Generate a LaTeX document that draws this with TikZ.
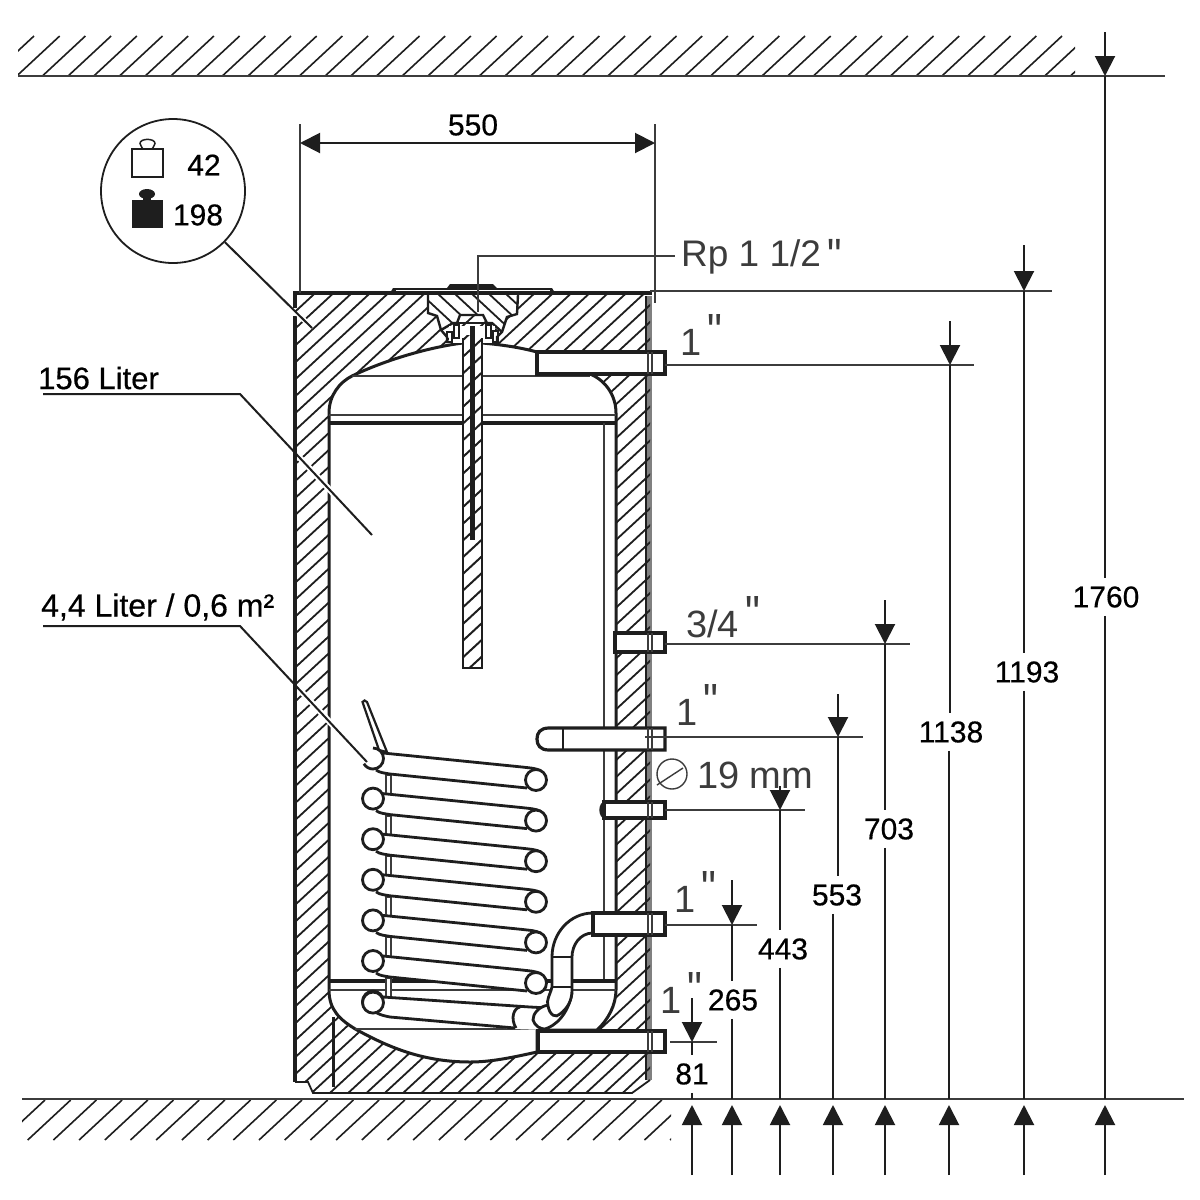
\documentclass[tikz,border=0pt]{standalone}
\usepackage{fontspec}
\setmainfont{Liberation Sans}
\newfontfamily\quotefont{Liberation Sans}
\newfontfamily\dimfont[FakeBold=0.5]{Liberation Sans}
\usetikzlibrary{arrows.meta}
\definecolor{ink}{HTML}{1E1E1E}
\definecolor{soft}{HTML}{3C3C3C}
\newcommand{\inchmark}{\raisebox{.17em}{\scalebox{1.1}[1.3]{\quotefont"}}}
\newcommand{\rpmark}{\raisebox{-.17em}{\scalebox{1.1}[1.3]{\quotefont"}}}
\tikzset{
    dimtext/.style={inner xsep=1pt,inner ysep=8pt,text=black,font=\dimfont\fontsize{30}{30}\selectfont},
    weighttext/.style={inner sep=1pt,text=black,font=\dimfont\fontsize{30}{30}\selectfont},
    fittext/.style={inner sep=0pt,anchor=base west,text=soft,font=\fontsize{38}{38}\selectfont},
    parttext/.style={inner sep=0pt,anchor=west,text=black,font=\dimfont\fontsize{31}{31}\selectfont},
    dimline/.style={draw=ink,line width=2pt},
    extline/.style={draw=soft,line width=1.4pt},
    hatchline/.style={draw=ink,line width=1.8pt},
    wall/.style={draw=ink,line width=3pt},
    pipe/.style={draw=ink,line width=3.2pt,fill=white},
    coilline/.style={draw=ink,line width=2.8pt},
    tipline/.style={-{Triangle[length=20pt,width=20pt]}}
}
\begin{document}
\begin{tikzpicture}[x=1pt,y=-1pt]
    \path[use as bounding box,fill=white] (0,0) rectangle (1200,1200);

    \begin{scope}
        \clip (18,35) rectangle (1075,76);
        \foreach \k in {-9,16.7,...,1090} \draw[hatchline,line width=1.6pt] (\k,76) -- (\k+43,36);
    \end{scope}
    \begin{scope}
        \clip (22,1099) rectangle (671,1140);
        \foreach \k in {2,27.7,...,700} \draw[hatchline,line width=1.6pt] (\k,1140) -- (\k+43,1100);
    \end{scope}
    \draw[extline,line width=2.2pt] (18,76) -- (1165,76);
    \draw[extline,line width=2.2pt] (22,1099) -- (1184,1099);

    \draw[draw=gray,line width=5pt] (649.5,296) -- (649.5,1080);
    \begin{scope}
        \clip (295,293) -- (650,293) -- (650,1080) -- (632,1093) -- (313,1093) -- (308,1082) -- (295,1082) -- cycle;
        \foreach \k in {-569,-550.7,...,650} \draw[hatchline] (\k,1095) -- (\k+866,293);
    \end{scope}
    \draw[wall,line width=1.8pt] (646,296) -- (646,1080);
    \draw[wall,line width=1.8pt] (650,1080) -- (632,1093) -- (313,1093) -- (308,1082) -- (295,1082);
    \draw[wall,line width=4pt] (295,316) -- (295,1082);
    \draw[wall,line width=4pt] (295,308) -- (295,293);
    \draw[wall,line width=3.6pt] (293,293) -- (652,293);
    \draw[wall] (333,1017) -- (333,1087);

    \path[fill=ink] (390,293) -- (393,288) -- (552,288) -- (555,293) -- cycle;
    \path[fill=ink] (447,288) -- (450,284) -- (493,284) -- (497,288) -- cycle;
    \draw[draw=white,line width=1pt] (396,290.5) -- (550,290.5);

    \draw[wall,fill=white] (329,990) -- (329,413) .. controls (329,395) and (340,382) .. (352,376)
        .. controls (385,360) and (430,347) .. (463,343) -- (482,343)
        .. controls (505,345) and (522,348) .. (537,352) -- (537,374) -- (590,374)
        .. controls (605,380) and (616,395) .. (616,413) -- (616,990)
        .. controls (616,1005) and (608,1020) .. (597,1030) -- (537,1030) -- (537,1052)
        .. controls (510,1058) and (490,1062) .. (470,1062)
        .. controls (420,1062) and (385,1045) .. (357,1030)
        .. controls (340,1020) and (329,1010) .. (329,990) -- cycle;
    \draw[extline,line width=1.8pt] (352,376) -- (590,376);
    \draw[extline,line width=1.8pt] (329,415) -- (616,415);
    \draw[wall,line width=3.8pt] (329,423) -- (616,423);
    \draw[extline,line width=2.4pt] (604,423) -- (604,981);
    \draw[wall,line width=3.8pt] (329,981) -- (616,981);
    \draw[extline,line width=2pt] (329,990) -- (616,990);
    \draw[extline,line width=2pt] (355,1029) -- (540,1029);

    \begin{scope}
        \clip (428,295) -- (428,313) -- (437,316) -- (441,330) -- (453,323) -- (457,323) -- (460,315) -- (483,315)
            -- (487,323) -- (502,332) -- (507,317) -- (517,314) -- (518,295) -- cycle;
        \fill[white] (420,290) rectangle (525,345);
        \foreach \k in {420,437,...,540} \draw[hatchline] (\k,293) -- (\k+56,345);
    \end{scope}
    \draw[wall,line width=2.4pt] (428,295) -- (428,313) -- (437,316) -- (441,330) -- (447,337) -- (447,343);
    \draw[wall,line width=2.4pt] (518,295) -- (517,314) -- (507,317) -- (502,332) -- (497,337) -- (497,343);
    \draw[wall,line width=2.4pt] (441,330) -- (453,323) -- (457,323) -- (460,315) -- (483,315) -- (487,323) -- (492,323) -- (502,332);
    \draw[wall,line width=2.4pt] (457,323) -- (487,323);
    \fill[white] (449,326) rectangle (495,343);
    \draw[wall,line width=2pt] (447,332) rectangle (452,342);
    \draw[wall,line width=2pt] (454,325) rectangle (459,338);
    \draw[wall,line width=2pt] (486,325) rectangle (491,338);
    \draw[wall,line width=2pt] (493,331) rectangle (498,342);

    \begin{scope}
        \clip (463,335) rectangle (482,668);
        \fill[white] (463,335) rectangle (482,668);
        \foreach \k in {340,356.7,...,690} \draw[hatchline,line width=2pt] (463,\k) -- (482,\k-17.6);
    \end{scope}
    \draw[wall,line width=2.8pt] (463,338) -- (463,668) -- (482,668) -- (482,338);
    \draw[draw=ink,line width=5.5pt] (472.5,326) -- (472.5,540);

    \foreach \i in {0,...,5} {
        \pgfmathsetmacro{\yb}{775+40.6*\i}
        \draw[extline,line width=1.8pt,fill=white] (386,\yb) rectangle (391,\yb+20);
    }

    \foreach \i in {0,...,5} {
        \pgfmathsetmacro{\yl}{758+40.6*\i}
        \pgfmathsetmacro{\yr}{\yl+22}
        \fill[white] (383,\yl-6) -- (522,\yr-13) -- (541,\yr-10) -- (527,\yr+7) -- (376,\yl+14) -- cycle;
        \draw[coilline] (383,\yl-5) -- (522,\yr-13) .. controls (530,\yr-12) and (536,\yr-12) .. (541,\yr-9);
        \draw[coilline] (376,\yl+12) .. controls (380,\yl+15) and (385,\yl+15) .. (390,\yl+16) -- (527,\yr+8);
        \draw[coilline,fill=white] (536,\yr) circle[radius=10.5pt];
    }
    \foreach \i in {1,...,6} \draw[coilline,fill=white] (373,758+40.6*\i) circle[radius=10.5pt];
    \draw[coilline,line width=2.2pt,fill=white] (362.5,702) .. controls (363,700) and (366,700) .. (367,702) -- (387,752) -- (379,750) -- cycle;
    \draw[coilline,fill=white] (373,748) arc[start angle=90,end angle=-150,radius=10.5pt];

    \fill[white] (383,997) -- (547,1008) -- (545,1030) -- (513,1029) -- (375,1014) -- cycle;
    \draw[coilline] (383,997) -- (530,1007) -- (548,1008);
    \draw[coilline] (375,1012) .. controls (380,1015) and (385,1016) .. (390,1017) -- (515,1028);
    \draw[coilline,fill=white] (373,1002.6) circle[radius=10.5pt];
    \draw[coilline,fill=white] (520,1007) .. controls (514,1008) and (510,1018) .. (516,1028);
    \draw[coilline,fill=white] (548,1005) .. controls (538,1007) and (533,1014) .. (533,1020)
        .. controls (535,1026) and (540,1029) .. (545,1029) .. controls (555,1026) and (568,1015) .. (572,993);

    \draw[pipe,line width=2.8pt] (593,913) .. controls (570,913) and (552,933) .. (552,957) -- (552,987)
        .. controls (550,995) and (546,1000) .. (548,1006) .. controls (550,1016) and (556,1018) .. (560,1014)
        .. controls (568,1008) and (572,1000) .. (572,990) -- (572,957)
        .. controls (572,945) and (580,933) .. (593,933) -- cycle;
    \draw[coilline] (552,957) -- (572,957);
    \draw[coilline,line width=2.2pt] (552,987) -- (572,987);

    \draw[pipe] (537,352) rectangle (665,374);
    \draw[pipe] (615,633) rectangle (665,652);
    \draw[pipe] (549,728) -- (665,728) -- (665,750) -- (549,750) .. controls (540,750) and (537,745) .. (537,739)
        .. controls (537,733) and (540,728) .. (549,728) -- cycle;
    \draw[coilline,line width=1.8pt] (563,728) -- (563,750);
    \draw[pipe] (604,802) rectangle (665,818);
    \draw[coilline] (606,802) .. controls (599,803) and (599,817) .. (606,818);
    \draw[pipe] (593,913) rectangle (665,935);
    \draw[pipe] (538,1031) rectangle (665,1052);
    \foreach \y/\h in {352/22,633/19,728/22,802/16,913/22,1031/21} {
        \draw[extline,line width=1.2pt] (648,\y) -- (648,\y+\h);
        \draw[extline,line width=1.2pt] (652,\y) -- (652,\y+\h);
    }

    \draw[wall] (537,1030) -- (597,1030);

    \foreach \val/\xa/\ya/\yb/\xl/\yl/\xf/\xe/\xg in {
        1760/1105/32/76/1106/597/1105/1105/1165,
        1193/1024/245/291/1027/672/1024/650/1052,
        1138/950/321/365/951/732/949/665/974,
        703/885/600/644/889/829/885/665/910,
        553/838/694/737/837/895/833/645/863,
        443/780/786/810/783/949/780/665/805,
        265/732/880/925/733/1000/732/665/757,
        81/692/998/1042/692/1074/692/670/717} {
        \node[dimtext] (d\val) at (\xl,\yl) {\val};
        \coordinate (dtop\val) at (\xa,\ya);
        \coordinate (dtip\val) at (\xa,\yb);
        \coordinate (dfoot\val) at (\xf,1099);
        \coordinate (dlow\val) at (\xf,1175);
        \coordinate (dup\val) at (\xf,1105);
        \draw[extline] (\xe,\yb) -- (\xg,\yb);
        \draw[dimline,tipline] (dtop\val) -- (dtip\val);
        \draw[dimline] (dtip\val) -- (dtip\val |- d\val.north);
        \draw[dimline] (dfoot\val |- d\val.south) -- (dfoot\val);
        \draw[dimline,tipline] (dlow\val) -- (dup\val);
    }

    \coordinate (jackl) at (300,143);
    \coordinate (jackr) at (655,143);
    \draw[extline] (300,124) -- (300,293);
    \draw[extline] (655,124) -- (655,303);
    \draw[dimline,{Triangle[length=20pt,width=20pt]}-{Triangle[length=20pt,width=20pt]}] (jackl) -- (jackr);
    \node[dimtext] (width) at (473,125) {550};

    \node[circle,draw=ink,line width=1.8pt,minimum size=144pt,inner sep=0pt] (badge) at (173,191) {};
    \coordinate (badgeend) at (312,328);
    \draw[draw=white,line width=5pt] (298,314) -- (310,326);
    \draw[dimline] (badge) -- (badgeend);
    \draw[draw=ink,line width=1.5pt] (132,149) rectangle (163,177);
    \draw[draw=ink,line width=1.5pt] (143,149) .. controls (143,147) and (140,147) .. (140,143.5)
        .. controls (140,138) and (155,138) .. (155,143.5) .. controls (155,147) and (152,147) .. (152,149);
    \fill[ink] (132,200) rectangle (163,228);
    \fill[ink] (147,194) ellipse[x radius=8pt,y radius=5pt];
    \fill[ink] (143,196) rectangle (151,202);
    \node[weighttext] (empty) at (204,165) {42};
    \node[weighttext] (full) at (198,215) {198};

    \node[parttext] (tanklabel) at (38,378) {156 Liter};
    \coordinate (tanka) at (43,394);
    \coordinate (tankb) at (240,394);
    \coordinate (tankc) at (372,535);
    \draw[draw=white,line width=6pt] (299,457) -- (343,504);
    \draw[dimline] (tanka) -- (tankb) -- (tankc);
    \node[parttext,font=\dimfont\fontsize{32}{32}\selectfont] (coillabel) at (41,607) {4,4 Liter / 0,6 m²};
    \coordinate (coila) at (43,626);
    \coordinate (coilb) at (240,626);
    \coordinate (coilc) at (367,762);
    \draw[draw=white,line width=6pt] (299,689) -- (340,733);
    \draw[dimline] (coila) -- (coilb) -- (coilc);

    \node[fittext,font=\fontsize{37}{37}\selectfont] (rp) at (681,266) {Rp 1 1/2\,\rpmark};
    \coordinate (rpa) at (478,312);
    \coordinate (rpb) at (478,256);
    \coordinate (rpc) at (675,256);
    \draw[extline] (rpa) -- (rpb) -- (rpc);
    \node[fittext] (topin) at (680,355) {1\,\inchmark};
    \node[fittext] (coldin) at (686,637) {3/4\,\inchmark};
    \node[fittext] (circin) at (676,725) {1\,\inchmark};
    \node[circle,draw=soft,line width=1.4pt,minimum size=30pt,inner sep=0pt] (dia) at (672,774) {};
    \coordinate (diaa) at (657,785);
    \coordinate (diab) at (683,768);
    \draw[extline] (diaa) -- (diab);
    \node[fittext] (pipe19) at (697,788) {19 mm};
    \node[fittext] (lowin) at (674,912) {1\,\inchmark};
    \node[fittext] (botin) at (660,1013) {1\,\inchmark};
\end{tikzpicture}
\end{document}
